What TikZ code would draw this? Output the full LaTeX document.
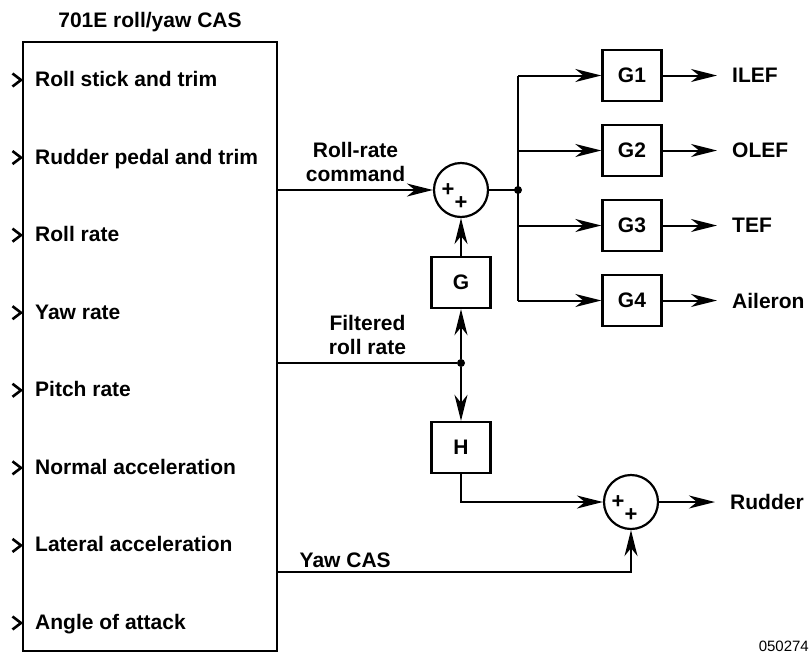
\documentclass[tikz,border=0pt]{standalone}
\usepackage{fontspec}
\setmainfont{Liberation Sans}
\usepackage{tikz}
\usetikzlibrary{arrows.meta, positioning}

\begin{document}
\begin{tikzpicture}[
    x=1pt, y=-1pt,
    wire/.style={line width=2pt},
    arr/.style={wire, -{Stealth[length=26pt, width=13pt, inset=8pt]}},
    lbl/.style={font=\bfseries\fontsize{21}{24}\selectfont, align=center},
    block/.style={draw, line width=2.4pt, minimum width=59pt, minimum height=51pt, lbl},
    sumnode/.style={draw, circle, line width=2.2pt, minimum size=54pt, inner sep=0pt},
    plus/.style={font=\bfseries\fontsize{22}{22}\selectfont, inner sep=0pt},
    outlbl/.style={lbl, anchor=west, inner xsep=15pt, inner ysep=0pt},
    junct/.style={circle, fill, inner sep=0pt, minimum size=8pt}
]
    \useasboundingbox (0,0) rectangle (809,654);

    % roll/yaw CAS box with its sensor inputs
    \node[lbl] (title) at (150,22) {701E roll/yaw CAS};
    \node[draw, line width=2.4pt, minimum width=254pt, minimum height=609pt] (cas) at (150,346.5) {};
    \foreach \txt [count=\i] in {Roll stick and trim, Rudder pedal and trim, Roll rate, Yaw rate,
            Pitch rate, Normal acceleration, Lateral acceleration, Angle of attack} {
        \pgfmathsetmacro{\yy}{79+77.57*(\i-1)}
        \node[lbl, anchor=base west, inner sep=0pt] (in\i) at (35,\yy+7.5) {\txt};
        \draw[line width=2.6pt] (12.5,\yy-5.5) -- (21,\yy+1) -- (12.5,\yy+7.5);
    }

    % summing junctions
    \node[sumnode] (s1) at (461,190) {};
    \node[plus] at ([xshift=-13pt]s1.center) {+};
    \node[plus] at ([yshift=-13pt]s1.center) {+};
    \node[sumnode] (s2) at (631,502) {};
    \node[plus] at ([xshift=-13pt]s2.center) {+};
    \node[plus] at ([yshift=-13pt]s2.center) {+};

    % gains
    \node[block] (gb) at (461,282.5) {G};
    \node[block] (hb) at (461,447.5) {H};
    \foreach \surf [count=\i] in {ILEF, OLEF, TEF, Aileron} {
        \node[block] (g\i) at (632,{75.5+75*(\i-1)}) {G\i};
        \node[outlbl] (o\i) at (717,{75.5+75*(\i-1)}) {\surf};
        \draw[arr] (g\i) -- (o\i);
    }
    \node[outlbl] (rud) at (715,502) {Rudder};

    % roll-rate command path
    \coordinate (jr) at (518,190);
    \draw[arr] (cas.east |- s1) -- node[lbl, above=4pt] {Roll-rate\\command} (s1);
    \draw[wire] (s1) -- (jr);
    \fill (jr) circle (4pt);
    \draw[wire] (jr |- g1) -- (jr |- g4);
    \foreach \i in {1,...,4}
        \draw[arr] (jr |- g\i) -- (g\i);
    \draw[arr] (gb) -- (s1);

    % filtered roll rate and yaw paths
    \node[junct] (jf) at (461,363) {};
    \draw[wire] (cas.east |- jf) -- node[lbl, above=4pt] {Filtered\\roll rate} (jf);
    \draw[arr] (jf) -- (gb);
    \draw[arr] (jf) -- (hb);
    \draw[arr] (hb) |- (s2);
    \draw[arr] (cas.east |- 0,572) -- node[lbl, above=0pt, pos=0.19] {Yaw CAS} (s2 |- 0,572) -- (s2);
    \draw[arr] (s2) -- (rud);

    \node[anchor=east, inner sep=0pt, font=\fontsize{15}{15}\selectfont] (fig) at (809,646) {050274};
\end{tikzpicture}
\end{document}
